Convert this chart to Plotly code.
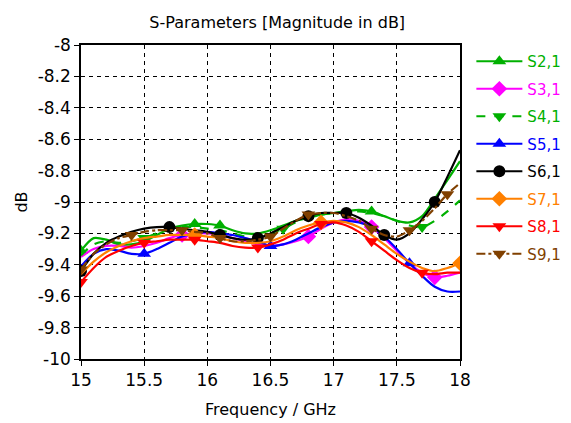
import plotly.graph_objects as go

# frekvence v GHz (krok 0.1)
freq = [15.0, 15.1, 15.2, 15.3, 15.4, 15.5, 15.6, 15.7, 15.8, 15.9,
        16.0, 16.1, 16.2, 16.3, 16.4, 16.5, 16.6, 16.7, 16.8, 16.9,
        17.0, 17.1, 17.2, 17.3, 17.4, 17.5, 17.6, 17.7, 17.8, 17.9, 18.0]

s21 = [-9.31, -9.23, -9.24, -9.27, -9.27, -9.25, -9.21, -9.17, -9.15, -9.14,
       -9.14, -9.15, -9.18, -9.20, -9.20, -9.18, -9.15, -9.12, -9.10, -9.08,
       -9.07, -9.06, -9.05, -9.06, -9.09, -9.12, -9.13, -9.09, -8.98, -8.86, -8.74]
s31 = [-9.35, -9.30, -9.28, -9.28, -9.29, -9.28, -9.26, -9.23, -9.21, -9.20,
       -9.20, -9.21, -9.23, -9.25, -9.27, -9.28, -9.27, -9.25, -9.22, -9.17,
       -9.13, -9.11, -9.12, -9.16, -9.23, -9.31, -9.39, -9.45, -9.48, -9.47, -9.45]
s41 = [-9.34, -9.27, -9.25, -9.26, -9.25, -9.23, -9.20, -9.17, -9.16, -9.16,
       -9.17, -9.18, -9.20, -9.22, -9.22, -9.20, -9.17, -9.13, -9.10, -9.08,
       -9.07, -9.06, -9.06, -9.07, -9.09, -9.12, -9.15, -9.16, -9.12, -9.06, -8.99]
s51 = [-9.41, -9.33, -9.30, -9.31, -9.33, -9.33, -9.30, -9.26, -9.22, -9.20,
       -9.19, -9.20, -9.21, -9.23, -9.25, -9.28, -9.27, -9.24, -9.20, -9.16,
       -9.13, -9.12, -9.13, -9.16, -9.22, -9.30, -9.39, -9.47, -9.54, -9.57, -9.57]
s61 = [-9.44, -9.33, -9.26, -9.22, -9.19, -9.17, -9.16, -9.16, -9.17, -9.18,
       -9.19, -9.21, -9.23, -9.24, -9.23, -9.20, -9.16, -9.12, -9.09, -9.07,
       -9.07, -9.07, -9.10, -9.15, -9.21, -9.24, -9.20, -9.11, -9.00, -8.84, -8.67]
s71 = [-9.46, -9.38, -9.32, -9.28, -9.25, -9.23, -9.22, -9.21, -9.21, -9.21,
       -9.22, -9.23, -9.25, -9.26, -9.26, -9.25, -9.22, -9.18, -9.15, -9.13,
       -9.12, -9.13, -9.16, -9.21, -9.27, -9.33, -9.38, -9.42, -9.44, -9.42, -9.39]
s81 = [-9.51, -9.42, -9.35, -9.31, -9.28, -9.26, -9.25, -9.24, -9.24, -9.24,
       -9.25, -9.26, -9.28, -9.29, -9.29, -9.27, -9.24, -9.20, -9.17, -9.14,
       -9.13, -9.15, -9.19, -9.25, -9.31, -9.37, -9.42, -9.45, -9.46, -9.45, -9.45]
s91 = [-9.43, -9.33, -9.27, -9.23, -9.21, -9.19, -9.18, -9.18, -9.18, -9.19,
       -9.20, -9.23, -9.25, -9.25, -9.24, -9.22, -9.17, -9.12, -9.08, -9.07,
       -9.07, -9.09, -9.12, -9.17, -9.21, -9.22, -9.18, -9.12, -9.04, -8.95, -8.88]

# indexy bodu se znackou
mk21 = [0, 9, 11, 23]
mk31 = [8, 18, 23, 28]
mk41 = [5, 16, 27]
mk51 = [5, 15, 26]
mk61 = [0, 7, 11, 14, 18, 21, 24, 28]
mk71 = [9, 19, 30]
mk81 = [0, 5, 9, 14, 19, 23, 27]
mk91 = [0, 4, 8, 11, 15, 18, 23, 26, 29]

x_ticks = [15, 15.5, 16, 16.5, 17, 17.5, 18]
x_labels = ["15", "15.5", "16", "16.5", "17", "17.5", "18"]
y_ticks = [-8, -8.2, -8.4, -8.6, -8.8, -9, -9.2, -9.4, -9.6, -9.8, -10]
y_labels = ["-8", "-8.2", "-8.4", "-8.6", "-8.8", "-9", "-9.2", "-9.4", "-9.6", "-9.8", "-10"]

series = [
    ("S2,1", s21, mk21, "#00b000", "solid", "triangle-up"),
    ("S3,1", s31, mk31, "#ff00ff", "solid", "diamond"),
    ("S4,1", s41, mk41, "#00b000", "dash", "triangle-down"),
    ("S5,1", s51, mk51, "#0000ff", "solid", "triangle-up"),
    ("S6,1", s61, mk61, "#000000", "solid", "circle"),
    ("S7,1", s71, mk71, "#ff8000", "solid", "diamond"),
    ("S8,1", s81, mk81, "#ff0000", "solid", "triangle-down"),
    ("S9,1", s91, mk91, "#804000", "dashdot", "triangle-down"),
]

fig = go.Figure()

for name, vals, marks, color, dash, symbol in series:
    sizes = [12 if i in marks else 0 for i in range(len(freq))]
    # krivka se znackami jen v nekterych bodech
    fig.add_trace(go.Scatter(
        x=freq, y=vals,
        mode="lines+markers",
        showlegend=False,
        legendgroup=name,
        line=dict(color=color, width=2.2, dash=dash, shape="spline", smoothing=0.8),
        marker=dict(color=color, size=sizes, symbol=symbol, opacity=1, line=dict(width=0)),
    ))
    # polozka legendy (bez dat)
    fig.add_trace(go.Scatter(
        x=[None], y=[None],
        mode="lines+markers",
        name=f"<span style='color:{color}'>{name}</span>",
        legendgroup=name,
        line=dict(color=color, width=2, dash=dash),
        marker=dict(color=color, size=12, symbol=symbol, line=dict(width=0)),
    ))

# stranka ma 8px okraj body -> okraje posunute, sirka +8 aby legenda nezmensovala graf
fig.update_layout(
    width=579, height=423,
    margin=dict(l=66, r=127, t=37, b=72),
    paper_bgcolor="white",
    plot_bgcolor="white",
    font=dict(family="DejaVu Sans", size=16, color="black"),
    title=dict(text="S-Parameters [Magnitude in dB]", x=0.465, xanchor="center",
               y=0.965, yanchor="middle", font=dict(size=16)),
    legend=dict(x=1.03, y=1.0, xanchor="left", yanchor="top",
                font=dict(size=15), itemwidth=46,
                tracegroupgap=5, bgcolor="rgba(0,0,0,0)"),
    showlegend=True,
)

fig.update_xaxes(
    range=[15, 18], tickvals=x_ticks, ticktext=x_labels,
    showline=True, linecolor="black", linewidth=1.5, mirror=True,
    ticks="outside", ticklen=5, tickcolor="black", tickfont=dict(size=17),
    showgrid=True, gridcolor="black", gridwidth=1, griddash="4px,4px",
    zeroline=False,
    title=dict(text="Frequency / GHz", font=dict(size=16), standoff=15),
)
fig.update_yaxes(
    range=[-10, -8], tickvals=y_ticks, ticktext=y_labels,
    showline=True, linecolor="black", linewidth=1.5, mirror=True,
    ticks="outside", ticklen=5, tickcolor="black", tickfont=dict(size=17),
    showgrid=True, gridcolor="black", gridwidth=1, griddash="4px,4px",
    zeroline=False,
    title=dict(text="dB", font=dict(size=16), standoff=6),
)

fig.write_html("out.html")
